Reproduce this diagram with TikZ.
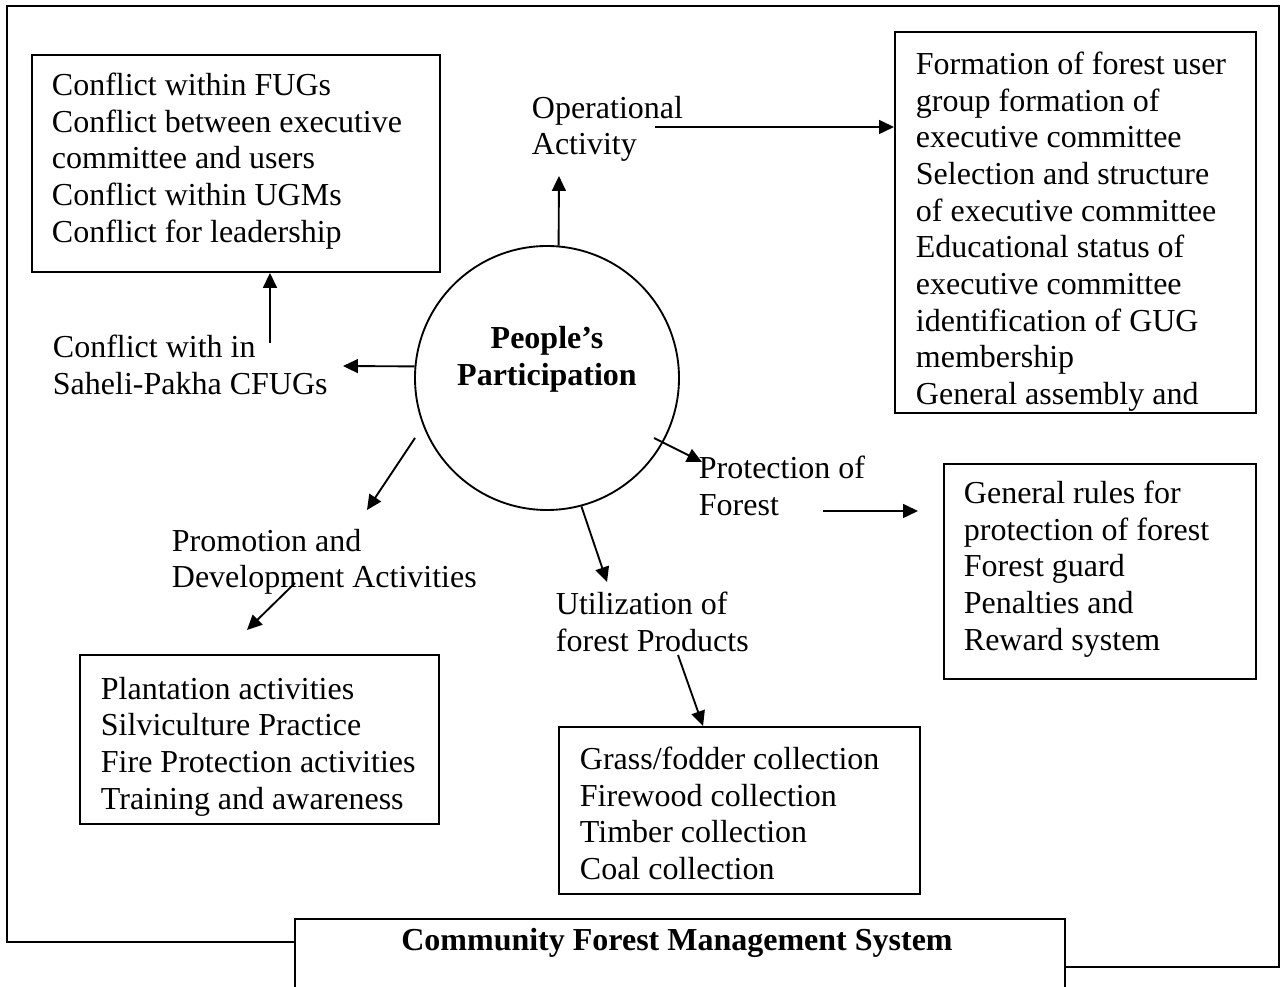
\documentclass[tikz,border=0pt]{standalone}
\usepackage{fontspec}
\setmainfont{Liberation Serif}
\usetikzlibrary{arrows.meta}

\tikzset{
  box/.style={draw, anchor=north west, inner sep=0pt},
  txt/.style={anchor=north west, inner sep=0pt, align=left,
    font=\fontsize{12}{13.75}\selectfont},
  arr/.style={-{Triangle[length=5.6pt,width=5.2pt]}},
}

\begin{document}
\begin{tikzpicture}[x=0.375pt, y=-0.375pt, line width=0.7pt]
            \useasboundingbox (0,0) rectangle (1283,987);
            % outer frame and the system box
            \draw (295,942) -- (7,942) -- (7,6) -- (1279,6) -- (1279,967) -- (1065,967);
            \draw (295,990) -- (295,919) -- (1065,919) -- (1065,990);
            \node[anchor=base, inner sep=0pt, font=\fontsize{12}{13.75}\selectfont\bfseries]
              (cfms) at (677,950) {Community Forest Management System};
            % hub
            \node[draw, circle, minimum size=99pt, inner sep=0pt] (hub) at (547,378) {};
            \node[align=center, inner sep=0pt, font=\fontsize{12}{13.75}\selectfont\bfseries]
              (hub-t) at (547,359) {People’s\\Participation};
            % boxes
            \node[box, minimum width=153pt, minimum height=81.4pt] (conf) at (31,54) {};
            \node[txt] (conf-t) at ([shift={(20,18)}]conf.north west)
              {Conflict within FUGs\\Conflict between executive\\committee and users\\Conflict within UGMs\\Conflict for leadership};
            \node[box, minimum width=135.4pt, minimum height=142.9pt] (form) at (894,31) {};
            \node[txt] (form-t) at ([shift={(21,20)}]form.north west)
              {Formation of forest user\\group formation of\\executive committee\\Selection and structure\\of executive committee\\Educational status of\\executive committee\\identification of GUG\\membership\\General assembly and};
            \node[box, minimum width=117pt, minimum height=80.6pt] (rules) at (943,463) {};
            \node[txt] (rules-t) at ([shift={(20,17)}]rules.north west)
              {General rules for\\protection of forest\\Forest guard\\Penalties and\\Reward system};
            \node[box, minimum width=134.6pt, minimum height=63.4pt] (plant) at (79,654) {};
            \node[txt] (plant-t) at ([shift={(21,22)}]plant.north west)
              {Plantation activities\\Silviculture Practice\\Fire Protection activities\\Training and awareness};
            \node[box, minimum width=135.4pt, minimum height=62.6pt] (coll) at (558,726) {};
            \node[txt] (coll-t) at ([shift={(21,20)}]coll.north west)
              {Grass/fodder collection\\Firewood collection\\Timber collection\\Coal collection};
            % labels round the hub
            \node[txt] (op) at (531,95) {Operational\\Activity};
            \node[txt] (cwl) at (52,334) {Conflict with in\\Saheli-Pakha CFUGs};
            \node[txt] (prot) at (698,455) {Protection of\\Forest};
            \node[txt] (prom) at (171,528) {Promotion and\\Development Activities};
            \node[txt] (util) at (555,591) {Utilization of\\forest Products};
            % arrow ends
            \coordinate (op-in) at (559,176);
            \coordinate (op-out) at (655,127);
            \coordinate (cwl-in) at (343,366);
            \coordinate (cwl-out) at (270,343);
            \coordinate (prom-a) at (415,438);
            \coordinate (prom-in) at (367,510);
            \coordinate (prom-out) at (295,583);
            \coordinate (plant-in) at (247,630);
            \coordinate (util-in) at (607,582);
            \coordinate (util-out) at (678,655);
            \coordinate (prot-a) at (654,438);
            \coordinate (prot-in) at (702,462);
            \coordinate (prot-out) at (823,511);
            \coordinate (rules-in) at (918,511);
            % arrows
            \draw[arr] (hub.85) -- (op-in);
            \draw[arr] (op-out) -- (op-out -| form.west);
            \draw[arr] (hub.175) -- (cwl-in);
            \draw[arr] (cwl-out) -- (cwl-out |- conf.south);
            \draw[arr] (prom-a) -- (prom-in);
            \draw[arr] (prom-out) -- (plant-in);
            \draw[arr] (hub.-75) -- (util-in);
            \draw[arr] (util-out) -- ([xshift=54.4pt]coll.north west);
            \draw[arr] (prot-a) -- (prot-in);
            \draw[arr] (prot-out) -- (rules-in);
          \end{tikzpicture}
\end{document}
